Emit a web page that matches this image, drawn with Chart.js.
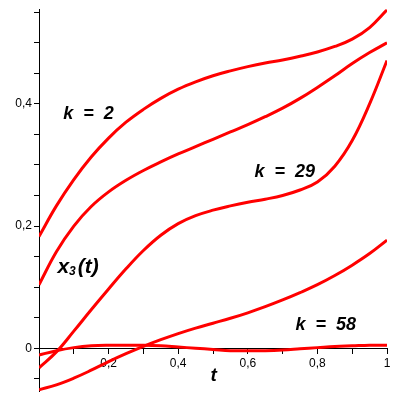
<!DOCTYPE html>
<html>
<head>
<meta charset="utf-8">
<script src="https://cdn.jsdelivr.net/npm/chart.js@4.4.1/dist/chart.umd.min.js"></script>
<style>
  html, body { margin: 0; padding: 0; background: #fff; }
  #wrap { width: 410px; height: 403px; }
</style>
</head>
<body>
<div id="wrap"><canvas id="grafico" width="410" height="403"></canvas></div>
<script>
// valores
var tempo  = [0, 0.05, 0.1, 0.15, 0.2, 0.25, 0.3, 0.35, 0.4, 0.45, 0.5, 0.55, 0.6, 0.65, 0.7, 0.75, 0.8, 0.85, 0.9, 0.95, 1];
var curva1 = [0.183, 0.233, 0.276, 0.313, 0.344, 0.370, 0.391, 0.409, 0.424, 0.436, 0.446, 0.454, 0.461, 0.467, 0.472, 0.478, 0.485, 0.494, 0.506, 0.525, 0.554];
var curva2 = [0.104, 0.158, 0.200, 0.232, 0.256, 0.275, 0.291, 0.305, 0.318, 0.330, 0.342, 0.354, 0.366, 0.379, 0.393, 0.409, 0.427, 0.446, 0.466, 0.484, 0.500];
var curva3 = [-0.032, -0.006, 0.028, 0.063, 0.097, 0.130, 0.160, 0.185, 0.204, 0.217, 0.226, 0.233, 0.239, 0.244, 0.250, 0.259, 0.272, 0.298, 0.340, 0.400, 0.471];
var curva4 = [-0.068, -0.060, -0.049, -0.036, -0.022, -0.009, 0.003, 0.014, 0.024, 0.033, 0.041, 0.049, 0.058, 0.068, 0.079, 0.091, 0.104, 0.119, 0.136, 0.155, 0.177];
var curva5 = [-0.011, -0.004, 0.001, 0.004, 0.005, 0.005, 0.005, 0.004, 0.002, 0.000, -0.002, -0.004, -0.004, -0.004, -0.003, -0.001, 0.001, 0.003, 0.004, 0.005, 0.005];

var rotulosX = [0.2, 0.4, 0.6, 0.8, 1];
var rotulosY = [0, 0.2, 0.4];

function pontos(ys) {
    return tempo.map(function(t, i) { return {x: t, y: ys[i]}; });
}

function temRotulo(lista, v) {
    return lista.some(function(r) { return Math.abs(r - v) < 1e-6; });
}

function formata(v) {
    return String(Math.round(v * 100) / 100).replace('.', ',');
}

// textos dentro do grafico (em coordenadas dos dados)
var textosPlugin = {
    id: 'textos',
    afterDatasetsDraw: function(chart) {
        var ctx = chart.ctx;
        var sx = chart.scales.x, sy = chart.scales.y;
        ctx.save();
        ctx.fillStyle = '#000';
        ctx.textBaseline = 'middle';
        ctx.textAlign = 'center';
        ctx.font = 'italic bold 18px "Liberation Sans"';
        ctx.fillText('k  =  2', sx.getPixelForValue(0.142), sy.getPixelForValue(0.384));
        ctx.fillText('k  =  29', sx.getPixelForValue(0.706), sy.getPixelForValue(0.288));
        ctx.fillText('k  =  58', sx.getPixelForValue(0.824), sy.getPixelForValue(0.038));
        ctx.font = 'italic bold 19px "Liberation Sans"';
        ctx.fillText('t', sx.getPixelForValue(0.502), sy.getPixelForValue(-0.045));

        // x3(t)
        var px = sx.getPixelForValue(0.053), py = sy.getPixelForValue(0.133);
        ctx.textAlign = 'left';
        ctx.font = 'italic bold 21px "Liberation Sans"';
        ctx.fillText('x', px, py);
        px += ctx.measureText('x').width;
        ctx.font = 'italic bold 12px "Liberation Sans"';
        ctx.fillText('3', px, py + 5);
        px += ctx.measureText('3').width + 2;
        ctx.font = 'italic bold 21px "Liberation Sans"';
        ctx.fillText('(t)', px, py);
        ctx.restore();
    }
};

var estiloLinha = { borderColor: '#ff0000', borderWidth: 3, pointRadius: 0, fill: false, tension: 0.4 };

var ctxGrafico = document.getElementById('grafico').getContext('2d');
window.grafico = new Chart(ctxGrafico, {
    type: 'line',
    data: {
        datasets: [curva1, curva2, curva3, curva4, curva5].map(function(c, i) {
            return Object.assign({ label: 'curva ' + (i + 1), data: pontos(c) }, estiloLinha);
        })
    },
    options: {
        responsive: false,
        animation: false,
        layout: { padding: { left: 0, right: 23, top: 9, bottom: 12 } },
        plugins: {
            legend: { display: false },
            tooltip: { enabled: false }
        },
        scales: {
            x: {
                type: 'linear',
                position: { y: 0 },
                min: 0,
                max: 1,
                grid: { drawOnChartArea: false, drawTicks: true, tickLength: 5, color: '#000' },
                border: { color: '#000', width: 1 },
                ticks: {
                    stepSize: 0.1,
                    includeBounds: false,
                    autoSkip: false,
                    maxRotation: 0,
                    padding: 3,
                    color: '#000',
                    font: { family: '"Liberation Sans"', size: 12 },
                    callback: function(v) { return temRotulo(rotulosX, v) ? formata(v) : ''; }
                }
            },
            y: {
                type: 'linear',
                position: 'left',
                min: -0.07,
                max: 0.555,
                afterFit: function(scale) { scale.width = 39; },
                grid: { drawOnChartArea: false, drawTicks: true, tickLength: 5, color: '#000' },
                border: { color: '#000', width: 1 },
                ticks: {
                    stepSize: 0.05,
                    includeBounds: false,
                    autoSkip: false,
                    padding: 2,
                    color: '#000',
                    font: { family: '"Liberation Sans"', size: 12 },
                    callback: function(v) { return temRotulo(rotulosY, v) ? formata(v) : ''; }
                }
            }
        }
    },
    plugins: [textosPlugin]
});
</script>
</body>
</html>
